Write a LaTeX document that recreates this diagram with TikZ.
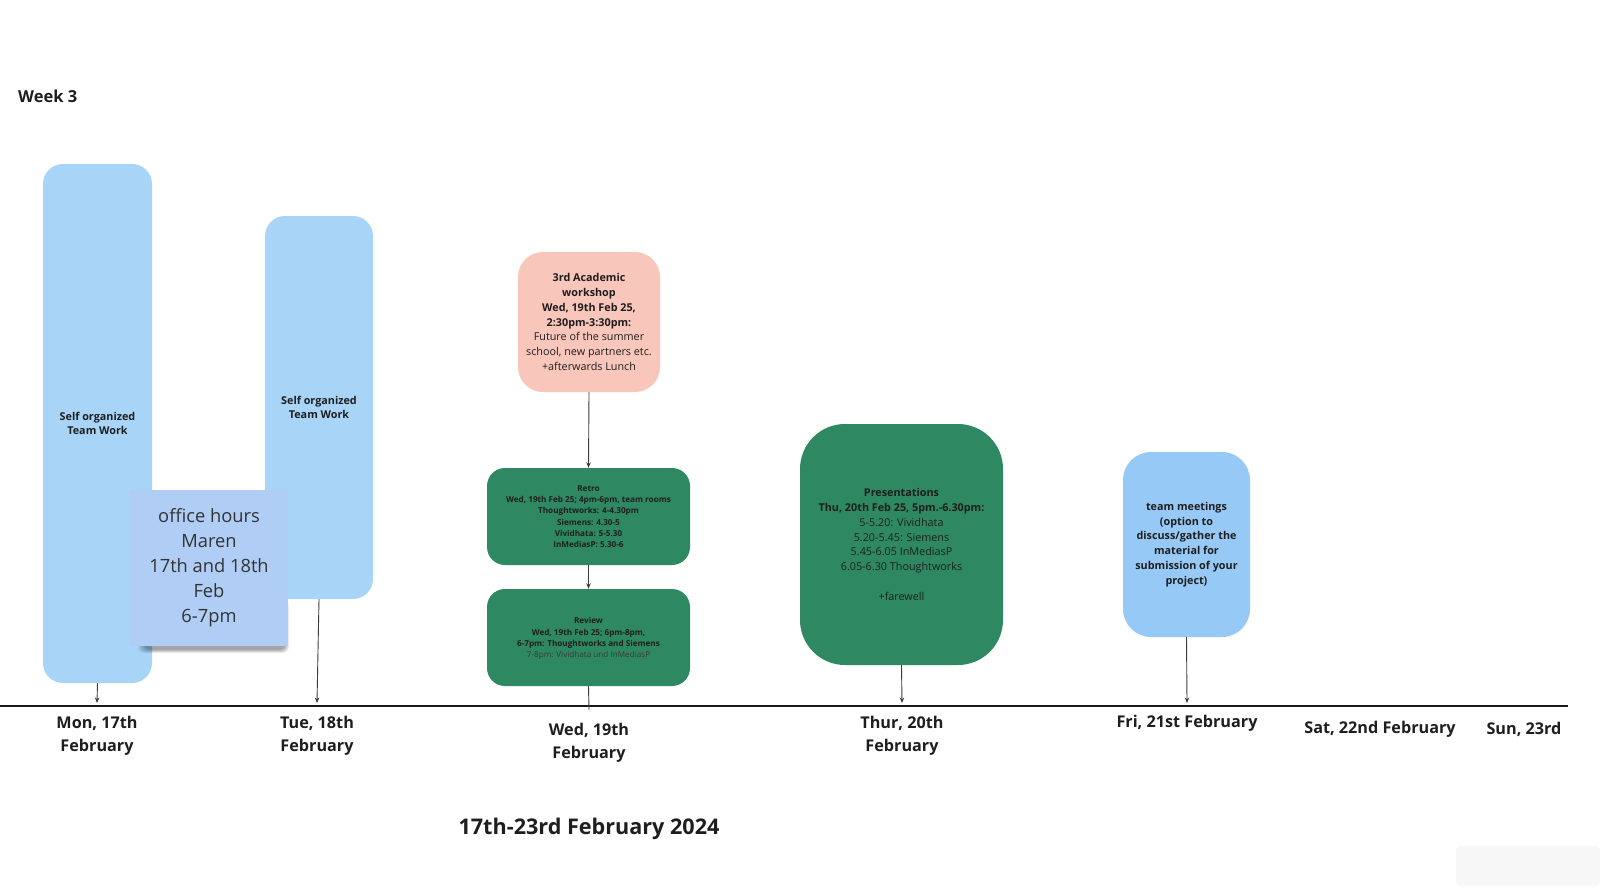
\documentclass[tikz,border=0pt]{standalone}
\usepackage{fontspec}
\setmainfont{Open Sans}
\usetikzlibrary{arrows.meta}
\definecolor{skyblue}{RGB}{168,213,247}
\definecolor{stickyblue}{RGB}{176,206,245}
\definecolor{teamblue}{RGB}{150,201,245}
\definecolor{darkgreen}{RGB}{46,137,98}
\definecolor{salmon}{RGB}{249,198,187}
\definecolor{txt}{RGB}{30,30,30}
\definecolor{arrowgray}{RGB}{60,60,60}
\tikzset{
  tile/.style={draw=none, align=center, inner sep=0pt, text=txt},
  bluetile/.style={tile, fill=skyblue, rounded corners=20pt},
  greentile/.style={tile, fill=darkgreen, rounded corners=18pt},
  small/.style={font=\fontsize{10.8}{14.8}\selectfont},
  tiny/.style={font=\fontsize{8.15}{11.3}\selectfont},
  daylabel/.style={align=center, inner sep=0pt, text=txt, font=\fontsize{16.2}{23}\selectfont\bfseries},
  conn/.style={draw=arrowgray, line width=0.9pt, -{Stealth[length=5.5pt,width=4.5pt]}},
  plainconn/.style={draw=arrowgray, line width=0.9pt},
}
\begin{document}
\begin{tikzpicture}[x=1pt,y=-1pt]
\useasboundingbox[fill=white] (0,0) rectangle (1600,886);

% title texts
\node[anchor=west, inner sep=0pt, text=txt, font=\fontsize{16.5}{20}\selectfont\bfseries] (week) at (18,96) {Week 3};
\node[inner sep=0pt, text=txt, font=\fontsize{21.6}{26}\selectfont\bfseries] (title) at (589,829) {17th-23rd February 2024};

% timeline
\coordinate (tl0) at (0,706);
\coordinate (tl1) at (1568,706);
\draw[line width=1.8pt, draw=black!90] (tl0) -- (tl1);
\coordinate (t1) at (97,703);
\coordinate (t2) at (317,703);
\coordinate (t3) at (589,710);
\coordinate (t4) at (902,703);
\coordinate (t5) at (1187,703);

% Monday / Tuesday blue bars
\node[bluetile, small, minimum width=109pt, minimum height=519pt] (mon) at (97.5,423.5) {\textbf{Self organized}\\\textbf{Team Work}};
\node[bluetile, small, minimum width=108pt, minimum height=383pt] (tue) at (319,407.5) {\textbf{Self organized}\\\textbf{Team Work}};

% sticky note soft shadow
\foreach \i in {0,...,7}{
  \fill[black, opacity=0.05, rounded corners=6pt] (138+\i,600+\i) rectangle (289-0.6*\i,653-0.5*\i);
}
% sticky note
\node[tile, fill=stickyblue, minimum width=158pt, minimum height=156pt,
      font=\fontsize{18.3}{25}\selectfont, text=black!80] (sticky) at (209,568)
  {office hours\\Maren\\17th and 18th\\Feb\\6-7pm};

% Wednesday
\node[tile, fill=salmon, rounded corners=25pt, small, minimum width=142pt, minimum height=140pt] (workshop) at (589,322)
  {\textbf{3rd Academic}\\\textbf{workshop}\\\textbf{Wed, 19th Feb 25,}\\\textbf{2:30pm-3:30pm:}\\Future of the summer\\school, new partners etc.\\+afterwards Lunch};
\node[greentile, tiny, minimum width=203pt, minimum height=97pt] (retro) at (588.5,516.5)
  {\textbf{Retro}\\\textbf{Wed, 19th Feb 25; 4pm-6pm, team rooms}\\\textbf{Thoughtworks: 4-4.30pm}\\\textbf{Siemens: 4.30-5}\\\textbf{Vividhata: 5-5.30}\\\textbf{InMediasP: 5.30-6}};
\node[greentile, tiny, minimum width=203pt, minimum height=97pt] (review) at (588.5,637.5)
  {\\[-3pt]\textbf{Review}\\\textbf{Wed, 19th Feb 25; 6pm-8pm,}\\\textbf{6-7pm: Thoughtworks and Siemens}\\{\color{black!78}7-8pm: Vividhata und InMediasP}};

% Thursday
\node[tile, fill=darkgreen, rounded corners=45pt, small, minimum width=203pt, minimum height=241pt] (pres) at (901.5,544.5)
  {\textbf{Presentations}\\\textbf{Thu, 20th Feb 25, 5pm.-6.30pm:}\\5-5.20: Vividhata\\5.20-5.45: Siemens\\5.45-6.05 InMediasP\\6.05-6.30 Thoughtworks\\[14.8pt]+farewell};

% Friday
\node[tile, fill=teamblue, rounded corners=28pt, small, minimum width=127pt, minimum height=185pt] (team) at (1186.5,544.5)
  {\textbf{team meetings}\\\textbf{(option to}\\\textbf{discuss/gather the}\\\textbf{material for}\\\textbf{submission of your}\\\textbf{project)}};

% connectors
\draw[conn] (mon.south) -- (t1);
\draw[conn] (tue.south) -- (t2);
\draw[conn] (workshop.south) -- (retro.north);
\draw[conn] (retro.south) -- (review.north);
\draw[plainconn] (review.south) -- (t3);
\draw[conn] (pres.south) -- (t4);
\draw[conn] (team.south) -- (t5);

% day labels
\node[daylabel] (dmon) at (97,735.5) {Mon, 17th\\February};
\node[daylabel] (dtue) at (317,735.5) {Tue, 18th\\February};
\node[daylabel] (dwed) at (589,742.5) {Wed, 19th\\February};
\node[daylabel] (dthu) at (902,735.5) {Thur, 20th\\February};
\node[daylabel] (dfri) at (1187,723) {Fri, 21st February};
\node[daylabel] (dsat) at (1380,729) {Sat, 22nd February};
\node[daylabel] (dsun) at (1524,729) {Sun, 23rd};

% faint corner panel
\fill[black!3, rounded corners=4pt] (1456,846) rectangle (1600,886);
\end{tikzpicture}
\end{document}
